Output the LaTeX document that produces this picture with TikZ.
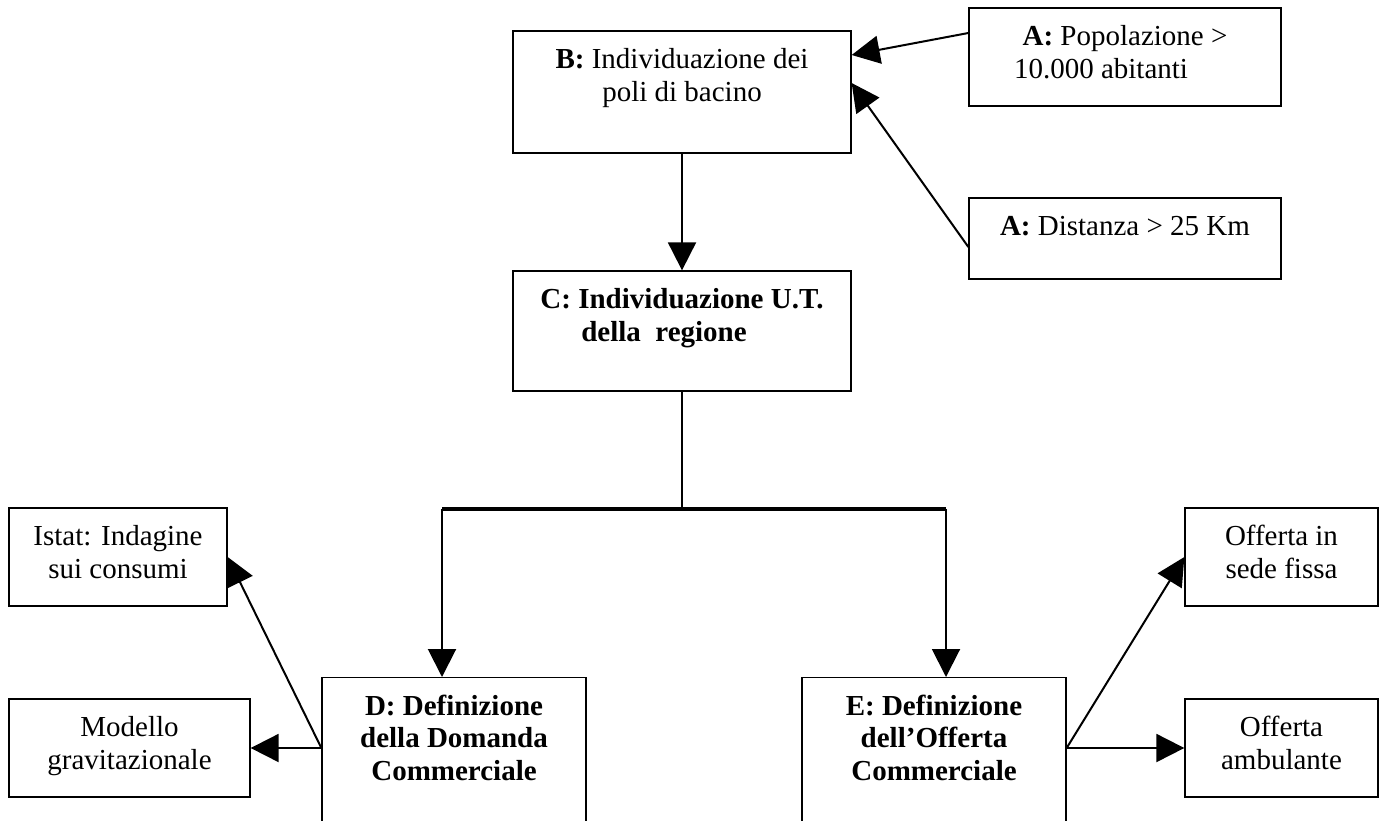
\documentclass[tikz,border=0pt]{standalone}
\usepackage{fontspec}
\setmainfont{Liberation Serif}
\usepackage{tikz}
\usetikzlibrary{calc, arrows.meta, positioning}

\newcommand{\riquadro}[3]{\parbox[c][#2][t]{#1}{\centering\rule{0pt}{18.75pt}#3}}

\begin{document}
\begin{tikzpicture}[x=0.5pt, y=-0.5pt, >={Triangle[length=14pt, width=14pt]},
    box/.style={draw, line width=0.65pt, inner sep=0pt},
    freccia/.style={->, line width=1pt},
    font=\fontsize{14.5}{16.25}\selectfont]
    % 0. Area del disegno
    \useasboundingbox (0,0) rectangle (1387,820);
    \clip (0,0) rectangle (1387,820);

    % 1. Riquadri in alto
    \node[box] (B) at (682,92) {\riquadro{169pt}{61pt}{\textbf{B:} Individuazione dei\\poli di bacino}};
    \node[box] (A1) at (1125,57) {\riquadro{156pt}{49pt}{\textbf{A:} Popolazione >\\10.000 abitanti\hspace*{24pt}}};
    \node[box] (A2) at (1125,238.5) {\riquadro{156pt}{40.5pt}{\textbf{A:} Distanza > 25 Km}};
    \node[box] (C) at (682,331) {\riquadro{169pt}{60pt}{\textbf{C: Individuazione U.T.\\della~~regione\hspace*{18pt}}}};

    % 2. Riquadri in basso
    \node[box, anchor=north] (D) at (454,677) {\riquadro{132pt}{100pt}{\textbf{D: Definizione\\della Domanda\\Commerciale}}};
    \node[box, anchor=north] (E) at (934,677) {\riquadro{132pt}{100pt}{\textbf{E: Definizione\\dell’Offerta\\Commerciale}}};
    \node[box] (istat) at (118,557) {\riquadro{109pt}{49pt}{Istat: Indagine\\sui consumi}};
    \node[box] (modello) at (129.5,748) {\riquadro{120.5pt}{49pt}{Modello\\gravitazionale}};
    \node[box] (sede) at (1281.5,557) {\riquadro{96.5pt}{49pt}{Offerta in\\sede fissa}};
    \node[box] (ambul) at (1281.5,748) {\riquadro{96.5pt}{49pt}{Offerta\\ambulante}};

    % 3. Collegamenti
    \draw[freccia] ([yshift=12pt]A1.west) -- ([yshift=18.5pt]B.east);
    \draw[freccia] ([yshift=-4.25pt]A2.west) -- ([yshift=4.5pt]B.east);
    \draw[freccia] (B) -- (C);

    \coordinate (split) at (682,509);
    \coordinate (barL) at (442,509);
    \coordinate (barR) at (946,509);
    \draw[line width=1pt] (C) -- (split);
    \draw[line width=2pt] (barL) -- (barR);
    \draw[freccia] (barL) -- (barL |- D.north);
    \draw[freccia] (barR) -- (barR |- E.north);

    \coordinate (dsx) at ($(D.north west)+(0,71)$);
    \coordinate (edx) at ($(E.north east)+(0,71)$);
    \draw[freccia] (dsx) -- (istat.east);
    \draw[freccia] (dsx) -- (modello.east);
    \draw[freccia] (edx) -- (sede.west);
    \draw[freccia] (edx) -- (ambul.west);
\end{tikzpicture}
\end{document}
